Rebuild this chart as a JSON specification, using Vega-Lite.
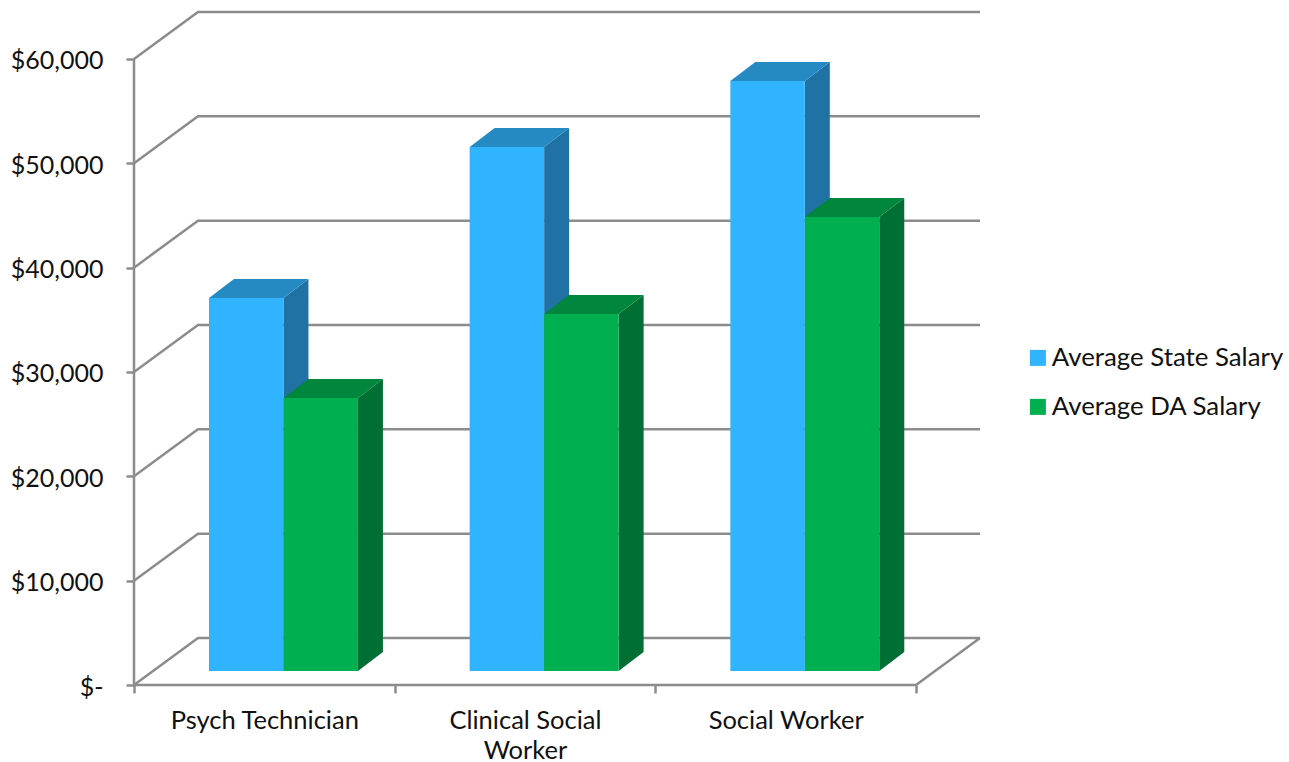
{
"$schema":"https://vega.github.io/schema/vega-lite/v6.json",
"width":846,"height":674,"autosize":"none",
"padding":{"left":134,"top":11,"right":309,"bottom":77},
"background":"white",
"config":{"view":{"stroke":null},"font":"Lato"},
"datasets":{
"bars":[
{"category":"Psych Technician","series":"Average State Salary","value":35750},
{"category":"Psych Technician","series":"Average DA Salary","value":26170},
{"category":"Clinical Social Worker","series":"Average State Salary","value":50220},
{"category":"Clinical Social Worker","series":"Average DA Salary","value":34220},
{"category":"Social Worker","series":"Average State Salary","value":56550},
{"category":"Social Worker","series":"Average DA Salary","value":43520}],
"levels":[{"level":0},{"level":10000},{"level":20000},{"level":30000},{"level":40000},{"level":50000},{"level":60000}],
"edges":[
{"edge":"wall","px":0,"py":0},{"edge":"wall","px":0,"py":60000},
{"edge":"floor","px":0,"py":0},{"edge":"floor","px":3,"py":0},{"edge":"floor","px":3.2455,"py":4505}]
},
"layer":[
{"data":{"name":"levels"},
 "transform":[{"calculate":"[0,1,2]","as":"t"},{"flatten":["t"]},
  {"calculate":"datum.t==0?0:(datum.t==1?0.2455:3.2455)","as":"px"},
  {"calculate":"datum.level+(datum.t>0?4505:0)","as":"py"}],
 "mark":{"type":"line","color":"#8c8c8c","strokeWidth":2.5,"clip":false},
 "encoding":{
  "x":{"field":"px","type":"quantitative","scale":{"domain":[0,3.2455],"nice":false,"zero":false},
   "axis":{"orient":"bottom","values":[0,1,2,3],"labels":false,"title":null,"grid":false,"domain":false,"ticks":true,"tickSize":8,"tickColor":"#8c8c8c","tickWidth":2.5}},
  "y":{"field":"py","type":"quantitative","scale":{"domain":[0,64600],"nice":false,"zero":false},
   "axis":{"orient":"left","values":[0,10000,20000,30000,40000,50000,60000],"title":null,"grid":false,"domain":false,"tickSize":8,"tickColor":"#8c8c8c","tickWidth":2.5,
    "labelExpr":"datum.value===0?'$-':format(datum.value,'$,')","labelFont":"Lato","labelFontSize":25,"labelColor":"#111111","labelPadding":23,"labelOffset":2,
    "encode":{"labels":{"update":{"x":{"signal":"datum.value===0?-43:-31"}}}}}},
  "detail":{"field":"level"},
  "order":{"field":"t"}}},
{"data":{"name":"edges"},
 "mark":{"type":"line","color":"#8c8c8c","strokeWidth":2.5},
 "encoding":{
  "x":{"field":"px","type":"quantitative",
   "axis":{"orient":"bottom","values":[0.5,1.5,2.5],"title":null,"grid":false,"domain":false,"ticks":false,"labelPadding":23,"labelFont":"Lato","labelFontSize":25.5,"labelColor":"#111111","labelLineHeight":30,"labelAngle":0,"labelBaseline":"top","labelLimit":400,
    "labelExpr":"datum.value<1?'Psych Technician':(datum.value<2?['Clinical Social','Worker']:'Social Worker')"}},
  "y":{"field":"py","type":"quantitative","axis":null},
  "detail":{"field":"edge"}}},
{"data":{"name":"bars"},
 "transform":[{"calculate":"[0,1]","as":"t"},{"flatten":["t"]},
  {"calculate":"indexof(['Psych Technician','Clinical Social Worker','Social Worker'],datum.category)+0.2877+(datum.series==='Average DA Salary'?0.2857:0)","as":"left"},
  {"calculate":"datum.left+0.2857+datum.t*0.0959","as":"sx"},
  {"calculate":"1342+datum.t*1821","as":"sb"},
  {"calculate":"datum.value+datum.sb","as":"st"}],
 "mark":{"type":"area","orient":"vertical"},
 "encoding":{
  "x":{"field":"sx","type":"quantitative","axis":null},
  "y":{"field":"st","type":"quantitative","axis":null},
  "y2":{"field":"sb"},
  "detail":[{"field":"category"},{"field":"series"}],
  "fill":{"condition":{"test":"datum.series==='Average State Salary'","value":"#1F72A3"},"value":"#006F33"}}},
{"data":{"name":"bars"},
 "transform":[{"calculate":"[0,1]","as":"t"},{"flatten":["t"]},
  {"calculate":"indexof(['Psych Technician','Clinical Social Worker','Social Worker'],datum.category)+0.2877+(datum.series==='Average DA Salary'?0.2857:0)","as":"left"},
  {"calculate":"datum.left+datum.t*0.0959","as":"tx"},
  {"calculate":"datum.tx+0.2857","as":"tx2"},
  {"calculate":"datum.value+1342+datum.t*1821","as":"ty"}],
 "mark":{"type":"area","orient":"horizontal"},
 "encoding":{
  "y":{"field":"ty","type":"quantitative","axis":null},
  "x":{"field":"tx","type":"quantitative","axis":null},
  "x2":{"field":"tx2"},
  "detail":[{"field":"category"},{"field":"series"}],
  "fill":{"condition":{"test":"datum.series==='Average State Salary'","value":"#2589C2"},"value":"#00863D"}}},
{"data":{"name":"bars"},
 "transform":[
  {"calculate":"indexof(['Psych Technician','Clinical Social Worker','Social Worker'],datum.category)+0.2877+(datum.series==='Average DA Salary'?0.2857:0)","as":"left"},
  {"calculate":"datum.left+0.2857","as":"right"},
  {"calculate":"datum.value+1342","as":"top"},
  {"calculate":"1342","as":"base"}],
 "mark":{"type":"rect"},
 "encoding":{
  "x":{"field":"left","type":"quantitative","axis":null},
  "x2":{"field":"right"},
  "y":{"field":"top","type":"quantitative","axis":null},
  "y2":{"field":"base"},
  "fill":{"field":"series","type":"nominal","scale":{"domain":["Average State Salary","Average DA Salary"],"range":["#30B4FF","#00B050"]},
   "legend":{"title":null,"orient":"none","legendX":891,"legendY":334,"symbolType":"square","symbolSize":256,"symbolStrokeWidth":0,"labelFont":"Lato","labelFontSize":25.8,"labelColor":"#111111","labelOffset":1,"rowPadding":22,"labelLimit":300,"padding":0}}}}
],
"resolve":{"axis":{"x":"independent","y":"independent"}}
}
